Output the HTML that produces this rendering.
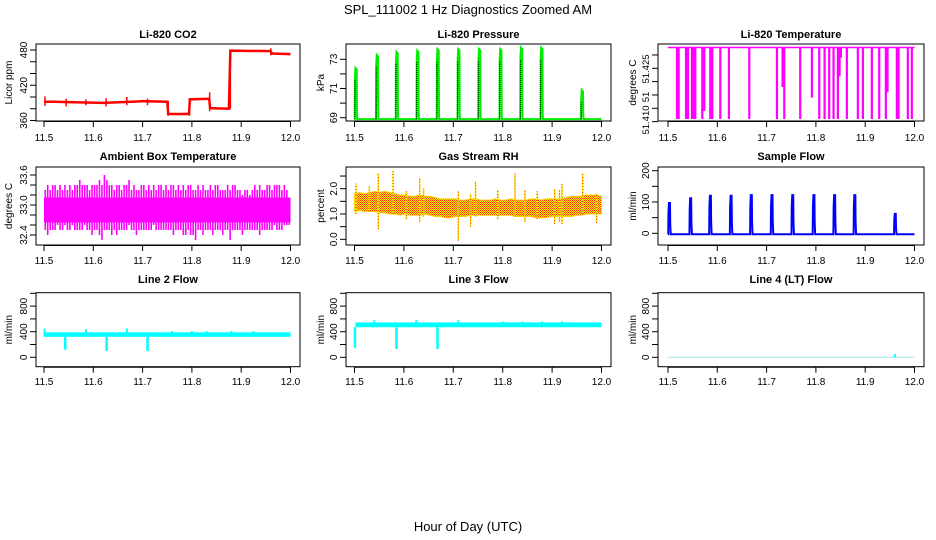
<!DOCTYPE html>
<html><head><meta charset="utf-8"><style>
html,body{margin:0;padding:0;background:#fff}
svg{display:block;font-family:"Liberation Sans",sans-serif}
</style></head><body>
<svg id="c" width="936" height="540" viewBox="0 0 936 540">
<defs>
<pattern id="rhpat" width="2" height="2" patternUnits="userSpaceOnUse">
<rect width="2" height="2" fill="#ffee00"/><rect x="0" y="0" width="1" height="1" fill="#ff3000"/><rect x="1" y="1" width="1" height="1" fill="#ff6000"/>
</pattern>
</defs>
<text x="468" y="14" text-anchor="middle" font-size="13">SPL_111002  1 Hz Diagnostics Zoomed AM</text>
<text x="468" y="531" text-anchor="middle" font-size="13">Hour of Day (UTC)</text>
</svg>
<script>
// ---- data ----
const xTicks=[11.5,11.6,11.7,11.8,11.9,12.0];
const xTickLabels=["11.5","11.6","11.7","11.8","11.9","12.0"];
const co2X=[11.50,11.52,11.56,11.62,11.68,11.70,11.75,11.752,11.794,11.796,11.835,11.837,11.875,11.878,11.96,11.962,12.0];
const co2Y=[392,392,391,390,392,393,392,371,371,396,397,381,380,479,478,474,473];
const co2SpikeX=[11.502,11.545,11.585,11.626,11.668,11.71,11.752,11.795,11.836,11.878,11.96];
const co2SpikeLo=[385,384,386,384,386,386,368,368,376,380,471];
const co2SpikeHi=[401,397,396,398,400,397,393,398,408,481,483];
const pulseX=[11.502,11.545,11.585,11.627,11.668,11.71,11.752,11.795,11.837,11.878,11.96];
const pressPeak=[72.4,73.3,73.5,73.6,73.7,73.7,73.7,73.7,73.8,73.8,70.9];
const pressBase=68.9;
const tempX=[11.5182,11.5216,11.5365,11.5405,11.5486,11.552,11.5554,11.5696,11.5736,11.5858,11.5899,11.6061,11.6236,11.6649,11.721,11.7324,11.7358,11.7682,11.7919,11.8068,11.8176,11.827,11.8358,11.8446,11.848,11.8507,11.8628,11.8851,11.8953,11.9135,11.9284,11.9419,11.9453,11.9642,11.9676,11.9865,11.9946];
const tempLow=[51.406,51.406,51.406,51.406,51.406,51.406,51.406,51.406,51.409,51.406,51.406,51.406,51.406,51.406,51.406,51.418,51.406,51.406,51.414,51.406,51.406,51.406,51.406,51.406,51.422,51.429,51.406,51.406,51.406,51.406,51.406,51.406,51.416,51.406,51.406,51.406,51.406];
const tempTop=51.4328;
const ambHi=[33.3,33.4,33.3,33.4,33.4,33.3,33.4,33.3,33.4,33.3,33.4,33.3,33.4,33.4,33.5,33.4,33.4,33.4,33.3,33.4,33.4,33.4,33.5,33.4,33.6,33.5,33.4,33.4,33.3,33.4,33.4,33.3,33.4,33.4,33.5,33.3,33.4,33.3,33.3,33.4,33.4,33.3,33.4,33.3,33.4,33.3,33.4,33.4,33.3,33.4,33.3,33.4,33.4,33.3,33.4,33.3,33.4,33.3,33.4,33.4,33.3,33.3,33.4,33.3,33.4,33.3,33.3,33.4,33.3,33.4,33.4,33.3,33.3,33.3,33.4,33.3,33.4,33.4,33.3,33.3,33.2,33.3,33.3,33.2,33.3,33.4,33.3,33.4,33.3,33.3,33.4,33.4,33.3,33.4,33.4,33.4,33.3,33.4,33.3,33.1];
const ambLo=[32.5,32.4,32.5,32.5,32.5,32.6,32.5,32.5,32.6,32.5,32.5,32.6,32.5,32.5,32.5,32.5,32.6,32.5,32.5,32.4,32.5,32.5,32.4,32.3,32.5,32.5,32.5,32.4,32.5,32.4,32.5,32.5,32.5,32.5,32.6,32.5,32.5,32.4,32.5,32.5,32.5,32.5,32.5,32.5,32.6,32.5,32.5,32.5,32.5,32.5,32.5,32.5,32.4,32.5,32.5,32.5,32.4,32.4,32.5,32.4,32.4,32.3,32.5,32.5,32.4,32.5,32.5,32.5,32.4,32.5,32.5,32.5,32.4,32.5,32.5,32.3,32.5,32.5,32.5,32.5,32.4,32.5,32.5,32.5,32.5,32.5,32.5,32.4,32.5,32.5,32.5,32.5,32.5,32.6,32.5,32.5,32.5,32.6,32.6,32.6];
const ambCore=[32.65,33.15];
const rhHi=[1.8,1.85,1.8,1.85,1.9,1.85,1.9,1.85,1.8,1.75,1.75,1.7,1.7,1.75,1.7,1.7,1.65,1.6,1.6,1.6,1.6,1.55,1.55,1.6,1.6,1.55,1.55,1.55,1.6,1.55,1.55,1.6,1.55,1.55,1.55,1.6,1.6,1.55,1.6,1.6,1.6,1.6,1.65,1.7,1.7,1.7,1.75,1.75,1.75,1.7];
const rhLo=[1.1,1.15,1.1,1.1,1.1,1.05,1.05,1.0,1.0,0.95,1.0,0.95,0.95,0.95,1.0,0.95,0.9,0.9,0.85,0.85,0.9,0.9,0.9,0.95,0.95,0.95,0.95,0.95,0.95,0.95,0.95,0.95,0.9,0.9,0.9,0.9,0.85,0.85,0.85,0.9,0.9,0.9,0.9,0.9,0.95,0.95,1.0,1.0,1.0,1.0];
const rhSpikeX=[11.503,11.53,11.548,11.578,11.605,11.632,11.64,11.71,11.735,11.745,11.79,11.825,11.845,11.87,11.905,11.915,11.92,11.962,11.99];
const rhSpikeLo=[1.0,1.1,0.4,1.0,0.8,0.7,0.9,-0.05,0.5,0.9,0.8,0.9,0.7,0.8,0.6,0.7,0.6,1.0,0.65];
const rhSpikeHi=[2.2,2.1,2.6,2.7,1.9,2.4,2.0,1.9,1.8,2.3,1.95,2.6,1.95,1.9,2.0,1.95,2.2,2.6,1.8];
const flowPeak=[97,112,120,120,122,122,122,122,122,122,62];
const flowBase=-3;
const l2Band=[320,390];
const l2DipX=[11.543,11.627,11.71];
const l2DipY=[120,100,100];
const l2SpikeX=[11.501,11.585,11.668,11.76,11.8,11.83,11.88,11.925];
const l2SpikeY=[450,440,450,410,410,410,410,410];
const l3Band=[470,545];
const l3DipX=[11.501,11.585,11.668];
const l3DipY=[150,130,130];
const l3SpikeX=[11.54,11.625,11.71,11.8,11.84,11.88,11.92];
const l3SpikeY=[580,580,580,560,560,560,560];
const l4Base=0;
const l4SpikeX=[11.96];
const l4SpikeY=[50];

// ---- layout ----
const S=document.getElementById('c');
const NS='http://www.w3.org/2000/svg';
const cols=[{bx0:36,bx1:300,x0:44,x1:290.5,tl:23,al:8},{bx0:346,bx1:611,x0:354.5,x1:601.5,tl:333,al:320},{bx0:658,bx1:924,x0:668,x1:914.5,tl:645,al:632}];
const rows=[{by0:44,by1:121,title:38,lab:141},{by0:167,by1:245,title:160,lab:264},{by0:292.7,by1:366.7,title:283,lab:385}];
function el(t,a,p){const e=document.createElementNS(NS,t);for(const k in a)e.setAttribute(k,a[k]);(p||S).appendChild(e);return e;}
function panel(r,c,title,ylab,v0,y0,v1,y1,ticks,labels,name){
  const C=cols[c],R=rows[r];
  const g=el('g',{});
  
  
  const X=h=>C.x0+(h-11.5)/0.5*(C.x1-C.x0);
  const Y=v=>y0+(v-v0)*(y1-y0)/(v1-v0);
  const t=el('text',{x:(C.bx0+C.bx1)/2,y:R.title,'text-anchor':'middle','font-size':11,'font-weight':'bold'},g);t.textContent=title;
  
  
  const ax=el('g',{stroke:'#000','stroke-width':1},g);
  
  
  xTicks.forEach((h,i)=>{el('line',{x1:X(h),x2:X(h),y1:R.by1,y2:R.by1+6},ax);
    const tx=el('text',{x:X(h),y:R.lab,'text-anchor':'middle','font-size':10,stroke:'none'},g);tx.textContent=xTickLabels[i];
    
    });
  el('line',{x1:X(11.5),x2:X(12),y1:R.by1+0.5,y2:R.by1+0.5},ax);
  ticks.forEach(v=>{el('line',{x1:C.bx0-6,x2:C.bx0,y1:Y(v),y2:Y(v)},ax);});
  labels.forEach(L=>{const yy=L[1]!==undefined?L[1]:Y(L[0]);
    const fs=L[3]||10;
    const tx=el('text',{x:C.tl,y:yy,'text-anchor':'middle','font-size':fs,transform:`rotate(-90 ${C.tl} ${yy})`,dy:4},g);tx.textContent=L[2]||String(L[0]);
    
    });
  const my=(R.by0+R.by1)/2;
  const yl=el('text',{x:C.al,y:my,'text-anchor':'middle','font-size':10,transform:`rotate(-90 ${C.al} ${my})`,dy:4},g);yl.textContent=ylab;
  
  
  const box=el('rect',{x:C.bx0,y:R.by0,width:C.bx1-C.bx0,height:R.by1-R.by0,fill:'none',stroke:'#000'},g);
  
  
  const d=el('g',{},g);
  
  
  return {X,Y,d};
}
function line(p,x1,y1,x2,y2,col,w,extra){const l=el('line',Object.assign({x1,y1,x2,y2,stroke:col,'stroke-width':w},extra||{}),p);return l;}

// CO2
(function(){const P=panel(0,0,'Li-820 CO2','Licor ppm',360,120.5,480,50,[360,380,400,420,440,460,480],[[360],[420],[480]],'co2');
 const pts=co2X.map((h,i)=>P.X(h)+','+P.Y(co2Y[i])).join(' ');
 const pl=el('polyline',{points:pts,fill:'none',stroke:'#ff0000','stroke-width':2.5},P.d);
 
 co2SpikeX.forEach((h,i)=>{const l=line(P.d,P.X(h),P.Y(co2SpikeLo[i]),P.X(h),P.Y(co2SpikeHi[i]),'#ff0000',1.5);
  });})();

// Pressure
(function(){const P=panel(0,1,'Li-820 Pressure','kPa',69,117.7,73,59.3,[69,70,71,72,73],[[69],[71],[73]],'pressure');
 let pts=[[11.5,pressBase]];
 pulseX.forEach((h,i)=>{pts.push([h-0.0015,pressBase],[h-0.001,pressPeak[i]-0.6],[h,pressPeak[i]],[h+0.0025,pressPeak[i]-0.1],[h+0.003,pressBase+0.3],[h+0.0035,pressBase]);});
 pts.push([12,pressBase]);
 const pl=el('polyline',{points:pts.map(q=>P.X(q[0])+','+P.Y(q[1])).join(' '),fill:'none',stroke:'#00ee00','stroke-width':2},P.d);
 
 pulseX.forEach((h,i)=>{const l=line(P.d,P.X(h-0.0012),P.Y(pressBase),P.X(h-0.0012),P.Y(pressPeak[i]-0.8),'#000',1,{'stroke-dasharray':'1 1'});
  });})();

// Temperature
(function(){const P=panel(0,2,'Li-820 Temperature','degrees C',51.41,108.3,51.425,68.3,[51.405,51.41,51.415,51.42,51.425,51.43],[[51.41,120,'51.410',9.5],[51.415,97,'51',9.5],[51.425,69,'51.425',9.5]],'li820-temp');
 const tl=line(P.d,P.X(11.5),P.Y(tempTop),P.X(12),P.Y(tempTop),'#ff00ff',1.5);
 
 tempX.forEach((h,i)=>{const l=line(P.d,P.X(h),P.Y(tempTop),P.X(h),P.Y(tempLow[i]),'#ff00ff',2.2);
  });})();

// Ambient
(function(){const P=panel(1,0,'Ambient Box Temperature','degrees C',33.6,175,32.4,235,[32.4,32.6,32.8,33.0,33.2,33.4,33.6],[[32.4,235,'32.4'],[33.0,205,'33.0'],[33.6,175,'33.6']],'ambient');
 const core=el('rect',{x:P.X(11.5),y:P.Y(ambCore[1]),width:P.X(12)-P.X(11.5),height:P.Y(ambCore[0])-P.Y(ambCore[1]),fill:'#ff00ff'},P.d);
 
 ambHi.forEach((v,i)=>{const h=11.5+i*0.005+0.0025;
  const l=line(P.d,P.X(h),P.Y(v),P.X(h),P.Y(ambLo[i]),'#ff00ff',1.6);
  });})();

// RH
(function(){const P=panel(1,1,'Gas Stream RH','percent',0,239.3,2,188.7,[0,0.5,1,1.5,2,2.5],[[0,239.3,'0.0'],[1,214,'1.0'],[2,188.7,'2.0']],'rh');
 const n=rhHi.length;let top=[],bot=[];
 rhHi.forEach((v,i)=>{const h=11.5+i*0.5/(n-1);top.push(P.X(h)+','+P.Y(v));});
 for(let i=n-1;i>=0;i--){const h=11.5+i*0.5/(n-1);bot.push(P.X(h)+','+P.Y(rhLo[i]));}
 const pg=el('polygon',{points:top.concat(bot).join(' '),fill:'url(#rhpat)',stroke:'#ffcc00','stroke-width':1},P.d);
 
 rhSpikeX.forEach((h,i)=>{const l=line(P.d,P.X(h),P.Y(rhSpikeLo[i]),P.X(h),P.Y(rhSpikeHi[i]),'#ffee00',1.5);
  
  const l2=line(P.d,P.X(h),P.Y(rhSpikeLo[i]),P.X(h),P.Y(rhSpikeHi[i]),'#ff2000',1,{'stroke-dasharray':'1 2'});
  });})();

// Sample flow
(function(){const P=panel(1,2,'Sample Flow','ml/min',0,233.3,200,170.7,[0,50,100,150,200],[[0],[100],[200]],'sample-flow');
 let pts=[[11.5,flowBase]];
 pulseX.forEach((h,i)=>{pts.push([h-0.0015,flowBase],[h-0.001,flowPeak[i]*0.7],[h,flowPeak[i]],[h+0.002,flowPeak[i]],[h+0.0025,flowPeak[i]*0.3],[h+0.0035,flowBase]);});
 pts.push([12,flowBase]);
 const pl=el('polyline',{points:pts.map(q=>P.X(q[0])+','+P.Y(q[1])).join(' '),fill:'none',stroke:'#0000ff','stroke-width':2},P.d);
 })();

// Line flows
function flowPanel(c,title,name,band,dx,dy,sx,sy){
 const P=panel(2,c,title,'ml/min',0,357.3,400,331.7,[0,200,400,600,800,1000],[[0],[400],[800]],name);
 if(band){const r=el('rect',{x:P.X(11.502),y:P.Y(band[1]),width:P.X(12)-P.X(11.502),height:P.Y(band[0])-P.Y(band[1]),fill:'#00ffff'},P.d);
  }
 else{const l=line(P.d,P.X(11.5),P.Y(l4Base),P.X(12),P.Y(l4Base),'#a8e8e8',1.2);
  }
 const ref=band?band[0]:l4Base;
 dx.forEach((h,i)=>{const l=line(P.d,P.X(h),P.Y(ref),P.X(h),P.Y(dy[i]),'#00ffff',2.5);
  });
 sx.forEach((h,i)=>{const l=line(P.d,P.X(h),P.Y(ref),P.X(h),P.Y(sy[i]),'#00ffff',2);
  });
}
flowPanel(0,'Line 2 Flow','line2-flow',l2Band,l2DipX,l2DipY,l2SpikeX,l2SpikeY);
flowPanel(1,'Line 3 Flow','line3-flow',l3Band,l3DipX,l3DipY,l3SpikeX,l3SpikeY);
flowPanel(2,'Line 4 (LT) Flow','line4-flow',null,[],[],l4SpikeX,l4SpikeY);
</script>
</body></html>
